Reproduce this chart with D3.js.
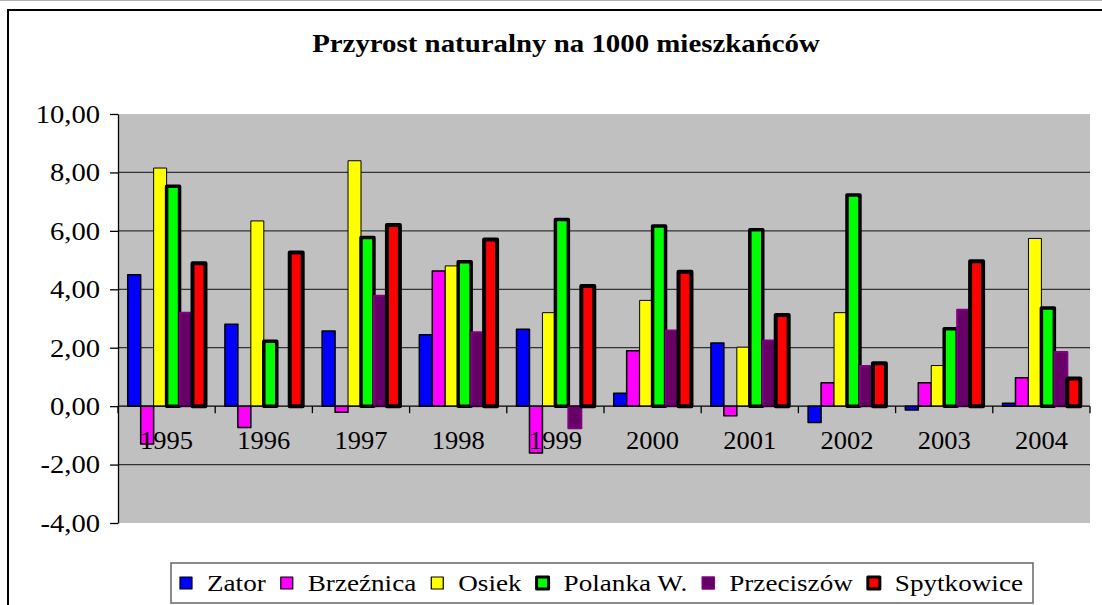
<!DOCTYPE html>
<html>
<head>
<meta charset="utf-8">
<script src="https://cdn.jsdelivr.net/npm/d3@7"></script>
<style>
  html, body { margin: 0; padding: 0; background: #fff; }
  svg { display: block; }
  text { font-family: "Liberation Serif", "Times New Roman", serif; fill: #000; }
</style>
</head>
<body>
<svg id="chart" width="1102" height="605"></svg>
<script>
// ---- data ----
const years = ["1995","1996","1997","1998","1999","2000","2001","2002","2003","2004"];
const seriesNames = ["Zator","Brzeźnica","Osiek","Polanka W.","Przeciszów","Spytkowice"];
const zator      = [4.50, 2.80, 2.57, 2.44, 2.63, 0.44, 2.16, -0.56, -0.13, 0.10];
const brzeznica  = [-1.30, -0.73, -0.21, 4.63, -1.60, 1.90, -0.33, 0.80, 0.80, 0.97];
const osiek      = [8.15, 6.34, 8.40, 4.80, 3.20, 3.62, 2.02, 3.20, 1.39, 5.74];
const polanka    = [7.53, 2.22, 5.77, 4.94, 6.39, 6.17, 6.04, 7.23, 2.65, 3.36];
const przeciszow = [3.20, 0.00, 3.78, 2.53, -0.76, 2.59, 2.25, 1.37, 3.30, 1.85];
const spytkowice = [4.89, 5.26, 6.20, 5.70, 4.11, 4.60, 3.12, 1.47, 4.96, 0.95];
const yTicks = [-4, -2, 0, 2, 4, 6, 8, 10];
const gridValues = [-2, 2, 4, 6, 8];
const title = "Przyrost naturalny na 1000 mieszkańców";

// ---- styles ----
const seriesValues = [zator, brzeznica, osiek, polanka, przeciszow, spytkowice];
const styles = [
  {fill: "#0000FF", stroke: "#000", sw: 1.5},
  {fill: "#FF00FF", stroke: "#000", sw: 1.5},
  {fill: "#FFFF00", stroke: "#000", sw: 1},
  {fill: "#00FF00", stroke: "#000", sw: 3.5},
  {fill: "#660066", stroke: "#800080", sw: 2},
  {fill: "#FF0000", stroke: "#000", sw: 4}
];

const svg = d3.select("#chart");
const plot = {left: 118, right: 1090, top: 114, bottom: 523};

function stretch(sel, f) {
  sel.each(function() {
    const len = this.getComputedTextLength();
    d3.select(this).attr("textLength", len * f).attr("lengthAdjust", "spacingAndGlyphs");
  });
}

// background & frame
svg.append("rect").attr("width", 1102).attr("height", 605).attr("fill", "#fff");
svg.append("line").attr("x1", 0).attr("x2", 1102).attr("y1", 0.5).attr("y2", 0.5)
  .attr("stroke", "#b0b0b0").attr("stroke-width", 1);
svg.append("rect").attr("x", 8).attr("y", 10).attr("width", 1200).attr("height", 700)
  .attr("fill", "none").attr("stroke", "#000").attr("stroke-width", 2);

// title
const t = svg.append("text").attr("x", 566).attr("y", 52).attr("text-anchor", "middle")
  .attr("font-size", 26).attr("font-weight", "bold").text(title);
stretch(t, 1.11);

// scales
const x = d3.scaleBand().domain(years).range([plot.left, plot.right]).padding(0);
const xs = d3.scaleBand().domain(seriesNames).range([0, x.bandwidth()])
  .paddingInner(0).paddingOuter(0.75);
const y = d3.scaleLinear().domain([-4, 10]).range([plot.bottom, plot.top]);

// plot area
svg.append("rect").attr("x", plot.left).attr("y", plot.top)
  .attr("width", plot.right - plot.left).attr("height", plot.bottom - plot.top)
  .attr("fill", "#C0C0C0");

// gridlines
svg.append("g").selectAll("line").data(gridValues).join("line")
  .attr("x1", plot.left).attr("x2", plot.right)
  .attr("y1", d => y(d)).attr("y2", d => y(d))
  .attr("stroke", "#333").attr("stroke-width", 1.3);

// bars
seriesNames.forEach((name, si) => {
  const st = styles[si];
  const data = years.map((yr, i) => ({yr, v: seriesValues[si][i]})).filter(d => d.v !== 0);
  svg.append("g").selectAll("rect").data(data).join("rect")
    .attr("x", d => x(d.yr) + xs(name))
    .attr("width", xs.bandwidth())
    .attr("y", d => y(Math.max(0, d.v)))
    .attr("height", d => Math.abs(y(d.v) - y(0)))
    .attr("fill", st.fill).attr("stroke", st.stroke).attr("stroke-width", st.sw)
    .attr("stroke-linejoin", "round");
});

// y axis
const yAxis = svg.append("g").attr("transform", `translate(${plot.left},0)`)
  .call(d3.axisLeft(y).tickValues(yTicks).tickSize(8).tickSizeOuter(0).tickPadding(10)
    .tickFormat(d => d.toFixed(2).replace(".", ",")));
yAxis.attr("font-family", null);
yAxis.select(".domain").attr("stroke", "#000").attr("stroke-width", 1.3);
yAxis.selectAll(".tick line").attr("stroke", "#000").attr("stroke-width", 1.3);
yAxis.selectAll(".tick text").attr("font-size", 26).attr("fill", "#000");
stretch(yAxis.selectAll(".tick text"), 1.1);

// x axis line at zero
const y0 = y(0);
svg.append("line").attr("x1", plot.left).attr("x2", plot.right).attr("y1", y0).attr("y2", y0)
  .attr("stroke", "#000").attr("stroke-width", 1.3);
const boundaries = years.map(yr => x(yr)).concat([x(years[years.length - 1]) + x.bandwidth()]);
svg.append("g").selectAll("line").data(boundaries).join("line")
  .attr("x1", d => d).attr("x2", d => d).attr("y1", y0).attr("y2", y0 + 7)
  .attr("stroke", "#000").attr("stroke-width", 1.3);
const xl = svg.append("g").selectAll("text").data(years).join("text")
  .attr("x", d => x(d) + x.bandwidth() / 2).attr("y", y0 + 43)
  .attr("text-anchor", "middle").attr("font-size", 25).text(d => d);
stretch(xl, 1.06);

// legend
const lg = svg.append("g");
lg.append("rect").attr("x", 171).attr("y", 563).attr("width", 862).attr("height", 40)
  .attr("fill", "#fff").attr("stroke", "#666").attr("stroke-width", 1.5);
const legStart = 180, legEnd = 1023, sq = 12;
const texts = seriesNames.map(name => {
  const tx = lg.append("text").attr("y", 591).attr("font-size", 23).text(name);
  stretch(tx, 1.18);
  return tx;
});
const totalText = texts.reduce((s, tx) => s + (+tx.attr("textLength")), 0);
const gap = (legEnd - legStart - totalText - seriesNames.length * sq) / (2 * seriesNames.length - 1);
let cx = legStart;
seriesNames.forEach((name, si) => {
  const st = styles[si];
  const sw = (si === 3 || si === 5) ? 3 : (si === 4 ? 1.5 : 1.2);
  lg.append("rect").attr("x", cx).attr("y", 577).attr("width", sq).attr("height", sq)
    .attr("fill", st.fill).attr("stroke", st.stroke).attr("stroke-width", sw)
    .attr("stroke-linejoin", "round");
  texts[si].attr("x", cx + sq + gap);
  cx = cx + sq + gap + (+texts[si].attr("textLength")) + gap;
});
</script>
</body>
</html>
